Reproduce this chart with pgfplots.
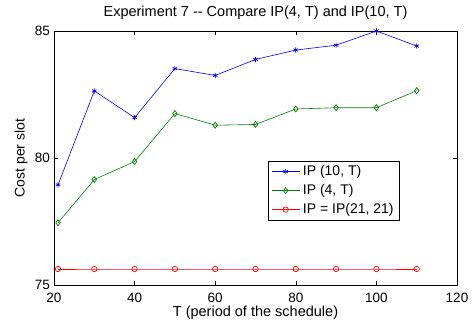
\documentclass[border=0pt]{standalone}
\usepackage{pgfplots}
\pgfplotsset{compat=1.18}
\usepackage{fontspec}
\setmainfont{Liberation Sans}
\begin{document}
\begin{tikzpicture}
\begin{axis}[
  scale only axis,
  width=403pt, height=254pt,
  xmin=20, xmax=120, ymin=75, ymax=85,
  xtick={20,40,60,80,100,120},
  ytick={75,80,85},
  tick align=inside,
  major tick length=4pt,
  tick style={black, line width=0.5pt},
  axis line style={black, line width=0.7pt},
  /pgf/number format/assume math mode=true,
  tick label style={font=\fontsize{13.5}{15}\selectfont},
  xticklabel style={inner sep=0pt, yshift=-8pt},
  yticklabel style={inner sep=0pt, xshift=-4pt},
  title style={font=\fontsize{14.5}{16}\selectfont, at={(axis description cs:0.5,1)}, anchor=base, yshift=8pt},
  title={Experiment 7 -{}- Compare IP(4, T) and IP(10, T)},
  xlabel={T (period of the schedule)},
  ylabel={Cost per slot},
  xlabel style={font=\fontsize{14.5}{16}\selectfont, at={(axis description cs:0.5,0)}, anchor=base, yshift=-32pt},
  ylabel style={font=\fontsize{14}{16}\selectfont, at={(axis description cs:-0.057,0.5)}, anchor=south},
  legend style={at={(axis cs:73.1,79.89)}, anchor=north west, draw=black, line width=0.7pt,
    font=\fontsize{14}{16}\selectfont, row sep=0pt, inner xsep=3pt, inner ysep=1pt,
    nodes={inner sep=3pt, text height=10pt, text depth=3pt}},
  legend cell align=left,
  legend image code/.code={\draw[mark repeat=2, mark phase=2, #1] plot coordinates {(0pt,0pt) (14pt,0pt) (28pt,0pt)};},
]
\addplot[blue, line width=0.6pt, mark=asterisk, mark size=2.6pt, mark options={line width=0.7pt}] coordinates {
(21,78.94) (30,82.64) (40,81.59) (50,83.52) (60,83.25) (70,83.88) (80,84.25) (90,84.44) (100,85.0) (110,84.41)};
\addlegendentry{IP (10, T)}
\addplot[green!50!black, line width=0.6pt, mark=diamond, mark size=3pt, mark options={line width=0.7pt}] coordinates {
(21,77.45) (30,79.15) (40,79.86) (50,81.75) (60,81.29) (70,81.32) (80,81.93) (90,81.98) (100,81.98) (110,82.65)};
\addlegendentry{IP (4, T)}
\addplot[red, line width=0.6pt, mark=o, mark size=2.7pt, mark options={line width=0.7pt}] coordinates {
(21,75.63) (30,75.63) (40,75.63) (50,75.63) (60,75.63) (70,75.63) (80,75.63) (90,75.63) (100,75.63) (110,75.63)};
\addlegendentry{IP = IP(21, 21)}
\end{axis}
\path (current axis.south west) ++(-54pt,-37pt) coordinate (bbA);
\path (current axis.north east) ++(17pt,31pt) coordinate (bbB);
\path (bbA) rectangle (bbB);
\end{tikzpicture}
\end{document}
